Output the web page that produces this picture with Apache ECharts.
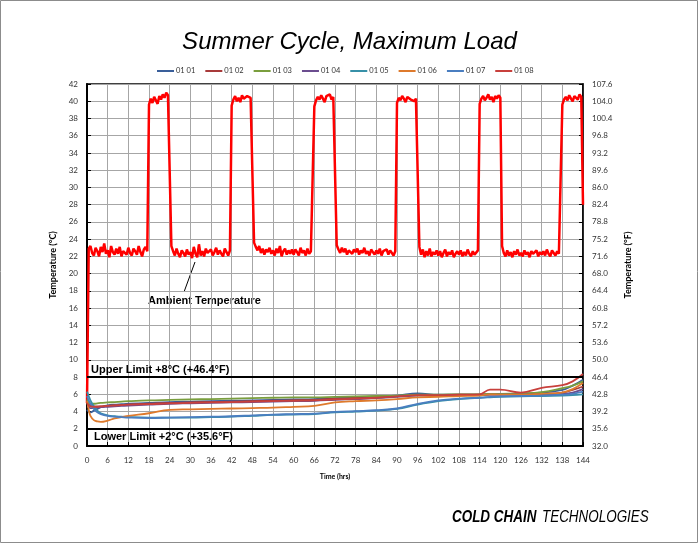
<!DOCTYPE html>
<html>
<head>
<meta charset="utf-8">
<title>Summer Cycle, Maximum Load</title>
<script src="https://cdn.jsdelivr.net/npm/echarts@6/dist/echarts.min.js"></script>
<style>
  html, body { margin: 0; padding: 0; background: #fff; }
  #main { width: 699px; height: 544px; }
</style>
</head>
<body>
<div id="main"></div>
<script>
"use strict";

// probe names (legend)
var probeNames = ['01 01', '01 02', '01 03', '01 04', '01 05', '01 06', '01 07', '01 08'];
var probeColors = ['#3a5f9a', '#a83a3a', '#7a9e3e', '#6b4d8f', '#3790a8', '#de7a2c', '#4a7ec0', '#c8403c'];

var probeHours = [0, 0.5, 1, 2, 3, 4, 6, 8, 10, 12, 18, 24, 30, 36, 42, 48, 54, 60, 66, 72, 78, 84, 90, 96, 102, 108, 114, 117, 120, 126, 132, 138, 141, 144];

var probe0101 = [4.2, 4.0, 3.9, 4.1, 4.3, 4.5, 4.7, 4.8, 4.85, 4.9, 5.0, 5.1, 5.15, 5.2, 5.25, 5.3, 5.35, 5.4, 5.45, 5.55, 5.65, 5.75, 5.85, 6.1, 5.95, 5.95, 5.95, 6.0, 6.0, 6.05, 6.2, 6.5, 7.0, 7.7];
var probe0102 = [5.3, 4.9, 4.7, 4.6, 4.6, 4.6, 4.65, 4.7, 4.75, 4.8, 4.9, 5.0, 5.05, 5.1, 5.15, 5.2, 5.25, 5.3, 5.35, 5.5, 5.6, 5.7, 5.8, 5.9, 5.9, 5.95, 5.95, 6.0, 6.0, 6.0, 6.05, 6.2, 6.5, 6.9];
var probe0103 = [5.4, 5.0, 4.9, 4.9, 4.95, 5.0, 5.05, 5.1, 5.15, 5.2, 5.3, 5.35, 5.4, 5.45, 5.5, 5.55, 5.6, 5.65, 5.65, 5.7, 5.75, 5.8, 5.85, 5.95, 5.95, 6.0, 6.0, 6.05, 6.05, 6.1, 6.25, 6.7, 7.0, 7.5];
var probe0104 = [4.6, 4.5, 4.4, 4.4, 4.45, 4.5, 4.55, 4.6, 4.65, 4.7, 4.8, 4.9, 4.95, 5.0, 5.05, 5.1, 5.15, 5.2, 5.25, 5.35, 5.45, 5.55, 5.7, 5.85, 5.85, 5.9, 5.9, 5.95, 5.95, 5.95, 6.0, 6.05, 6.2, 6.6];
var probe0105 = [6.3, 5.8, 5.3, 4.6, 4.1, 3.8, 3.55, 3.45, 3.4, 3.35, 3.3, 3.3, 3.3, 3.35, 3.4, 3.5, 3.6, 3.65, 3.7, 3.9, 4.0, 4.1, 4.3, 4.8, 5.2, 5.45, 5.6, 5.65, 5.7, 5.75, 5.8, 5.85, 5.9, 6.0];
var probe0106 = [5.2, 4.2, 3.5, 3.0, 2.85, 2.8, 2.95, 3.2, 3.35, 3.5, 3.8, 4.2, 4.25, 4.3, 4.35, 4.4, 4.45, 4.55, 4.65, 5.05, 5.2, 5.3, 5.45, 5.65, 5.7, 5.8, 5.85, 6.0, 5.95, 5.95, 6.05, 6.2, 6.6, 7.3];
var probe0107 = [5.8, 5.3, 4.9, 4.3, 3.9, 3.7, 3.5, 3.4, 3.35, 3.3, 3.25, 3.3, 3.35, 3.4, 3.45, 3.55, 3.65, 3.7, 3.75, 3.95, 4.05, 4.15, 4.35, 4.9, 5.3, 5.5, 5.6, 5.7, 5.75, 5.8, 5.85, 5.95, 6.05, 6.3];
var probe0108 = [5.0, 4.7, 4.6, 4.55, 4.55, 4.6, 4.65, 4.7, 4.75, 4.8, 4.85, 4.95, 5.0, 5.05, 5.1, 5.15, 5.2, 5.25, 5.3, 5.4, 5.5, 5.6, 5.75, 5.9, 5.9, 5.95, 6.0, 6.55, 6.55, 6.2, 6.75, 7.05, 7.5, 8.35];
var probeValues = [probe0101, probe0102, probe0103, probe0104, probe0105, probe0106, probe0107, probe0108];

// ambient temperature, one reading every half hour (0 .. 144 h), 12 per row = 6 h
var ambientStep = 0.5;
var ambient = [
  5.0, 22.9, 23.2, 22.4, 22.1, 23.0, 22.6, 22.0, 23.1, 22.5, 23.5, 22.3,
  22.7, 21.9, 23.2, 22.5, 22.2, 22.9, 22.3, 23.1, 22.0, 22.6, 22.8, 22.2,
  23.0, 22.4, 22.1, 22.9, 22.6, 22.2, 23.2, 22.5, 22.0, 22.8, 23.1, 22.6,
  39.6, 40.3, 39.8, 40.5, 40.1, 39.7, 40.6, 40.2, 40.8, 40.4, 41.0, 40.7,
  40.9, 23.2, 22.6, 22.1, 22.9, 22.3, 21.9, 22.7, 22.4, 22.0, 22.8, 22.2,
  22.5, 21.8, 23.1, 22.3, 21.9, 23.4, 22.1, 22.6, 22.0, 22.9, 22.4, 22.2,
  22.8, 22.1, 22.5, 23.0, 22.2, 22.7, 22.3, 22.0, 22.9, 22.5, 22.1, 22.7,
  39.5, 40.2, 40.6, 40.0, 40.4, 39.9, 40.7, 40.3, 40.1, 40.6, 40.8, 40.4,
  40.5, 23.6, 23.1, 22.7, 23.2, 22.4, 22.9, 22.2, 22.8, 22.5, 23.0, 22.3,
  22.7, 22.1, 22.9, 22.4, 23.2, 22.0, 22.6, 22.9, 22.2, 22.7, 22.3, 22.8,
  22.2, 22.8, 22.5, 22.1, 23.0, 22.4, 22.7, 22.1, 22.9, 22.3, 22.6, 22.4,
  39.4, 40.1, 40.5, 40.2, 40.7, 40.3, 39.9, 40.6, 40.4, 40.8, 40.2, 40.5,
  40.3, 23.3, 22.8, 22.4, 23.0, 22.5, 22.9, 22.2, 22.7, 22.6, 22.3, 22.8,
  22.5, 22.9, 22.2, 22.7, 22.4, 23.0, 22.3, 22.6, 22.1, 22.8, 22.5, 22.2,
  22.7, 22.3, 22.9, 22.1, 22.6, 22.4, 22.8, 22.2, 22.7, 22.5, 22.1, 22.6,
  39.8, 40.4, 40.1, 40.6, 40.3, 39.9, 40.5, 40.7, 40.2, 40.4, 40.0, 40.3,
  40.1, 23.1, 22.2, 22.8, 21.9, 22.6, 22.1, 22.9, 22.0, 22.5, 22.2, 22.7,
  22.1, 22.6, 21.9, 22.4, 22.8, 22.0, 22.5, 22.2, 22.7, 21.9, 22.3, 22.6,
  22.2, 22.7, 22.0, 22.5, 22.1, 22.8, 22.3, 22.0, 22.6, 22.2, 22.4, 22.7,
  39.7, 40.3, 40.6, 40.1, 40.4, 40.8, 40.2, 40.5, 39.9, 40.6, 40.3, 40.7,
  40.4, 23.2, 22.4, 22.0, 22.7, 22.1, 22.5, 21.9, 22.6, 22.2, 22.8, 22.1,
  22.4, 22.0, 22.7, 22.2, 22.5, 21.9, 22.6, 22.3, 22.1, 22.7, 22.0, 22.5,
  22.2, 22.6, 22.1, 22.8, 22.3, 22.0, 22.7, 22.4, 22.1, 22.6, 22.3, 22.5,
  39.6, 40.2, 40.5, 40.1, 40.7, 40.3, 40.0, 40.6, 40.4, 40.2, 40.8, 40.5,
  28.0
];

// right axis tick labels (degrees F for 0,2,4 .. 42 C)
var fahrenheitLabels = ['32.0', '35.6', '39.2', '42.8', '46.4', '50.0', '53.6', '57.2', '60.8', '64.4', '68.0',
  '71.6', '75.2', '78.8', '82.4', '86.0', '89.6', '93.2', '96.8', '100.4', '104.0', '107.6'];

// limits
var upperLimit = 8;
var lowerLimit = 2;
var upperLabel = 'Upper Limit +8°C (+46.4°F)';
var lowerLabel = 'Lower Limit +2°C (+35.6°F)';

var chart = echarts.init(document.getElementById('main'));

var labelFont = 'Lato, "Liberation Sans", sans-serif';
var arialFont = '"Liberation Sans", Arial, sans-serif';

function pairs(xs, ys) {
  var out = [];
  for (var i = 0; i < ys.length; i++) out.push([xs[i], ys[i]]);
  return out;
}

var ambientData = [];
for (var i = 0; i < ambient.length; i++) ambientData.push([i * ambientStep, ambient[i]]);

var series = [];
// ambient first so probes sit above it
series.push({
  name: 'Ambient',
  type: 'line',
  data: ambientData,
  showSymbol: false,
  lineStyle: { color: '#ff0000', width: 2.5 },
  itemStyle: { color: '#ff0000' },
  z: 3
});
for (var p = 0; p < probeNames.length; p++) {
  series.push({
    name: probeNames[p],
    type: 'line',
    data: pairs(probeHours, probeValues[p]),
    smooth: 0.4,
    showSymbol: false,
    lineStyle: { color: probeColors[p], width: 1.8 },
    itemStyle: { color: probeColors[p] },
    z: 4
  });
}
// upper / lower limit lines
series[1].markLine = {
  silent: true,
  symbol: 'none',
  animation: false,
  lineStyle: { color: '#000', width: 2, type: 'solid' },
  data: [
    { yAxis: upperLimit, label: { formatter: upperLabel, position: 'insideStartTop', distance: [4, 2] } },
    { yAxis: lowerLimit, label: { formatter: lowerLabel, position: 'insideStartBottom', distance: [7, 3] } }
  ],
  label: { color: '#000', fontSize: 11, fontWeight: 'bold', fontFamily: arialFont }
};

var option = {
  animation: false,
  backgroundColor: '#fff',
  title: {
    text: 'Summer Cycle, Maximum Load',
    left: 'center',
    top: 25,
    textStyle: { fontSize: 24, fontStyle: 'italic', fontWeight: 'normal', color: '#000', fontFamily: arialFont }
  },
  legend: {
    data: probeNames,
    top: 62,
    left: 152,
    icon: 'rect',
    itemWidth: 17,
    itemHeight: 2,
    itemGap: 10,
    textStyle: { fontSize: 7.5, color: '#333', fontFamily: labelFont, padding: [0, 0, 0, -3] }
  },
  grid: {
    left: 87,
    right: 116,
    top: 84,
    bottom: 98,
    show: true,
    borderColor: '#000',
    borderWidth: 1.5
  },
  xAxis: {
    type: 'value',
    min: 0,
    max: 144,
    interval: 6,
    name: 'Time (hrs)',
    nameLocation: 'middle',
    nameGap: 27,
    nameTextStyle: { fontSize: 7, fontWeight: 'bold', color: '#000', fontFamily: labelFont },
    axisLine: { show: true, lineStyle: { color: '#000', width: 2 } },
    axisTick: { show: true, inside: true, length: 4, lineStyle: { color: '#000' } },
    axisLabel: { fontSize: 8, color: '#333', margin: 10, fontFamily: labelFont },
    splitLine: { show: true, lineStyle: { color: '#a6a6a6', width: 1 } }
  },
  yAxis: [{
    type: 'value',
    min: 0,
    max: 42,
    interval: 2,
    position: 'left',
    name: 'Temperature (°C)',
    nameLocation: 'middle',
    nameGap: 23,
    nameRotate: 90,
    nameTextStyle: { fontSize: 9, fontWeight: 'bold', color: '#000', fontFamily: labelFont },
    axisLine: { show: true, lineStyle: { color: '#000', width: 2 } },
    axisTick: { show: true, inside: true, length: 4, lineStyle: { color: '#000' } },
    axisLabel: { fontSize: 8, color: '#333', margin: 9, fontFamily: labelFont },
    splitLine: { show: true, lineStyle: { color: '#a6a6a6', width: 1 } }
  }, {
    type: 'value',
    min: 0,
    max: 42,
    interval: 2,
    position: 'right',
    name: 'Temperature (°F)',
    nameLocation: 'middle',
    nameGap: 39,
    nameRotate: 90,
    nameTextStyle: { fontSize: 9, fontWeight: 'bold', color: '#000', fontFamily: labelFont },
    axisLine: { show: true, lineStyle: { color: '#000', width: 1.5 } },
    axisTick: { show: true, inside: true, length: 4, lineStyle: { color: '#000' } },
    axisLabel: {
      fontSize: 8, color: '#333', margin: 9, fontFamily: labelFont,
      formatter: function(v) { return fahrenheitLabels[Math.round(v / 2)]; }
    },
    splitLine: { show: false }
  }],
  series: series,
  graphic: [
    // outer frame
    {
      type: 'rect',
      shape: { x: 0.5, y: 0.5, width: 697, height: 542 },
      style: { fill: 'none', stroke: '#8c8c8c', lineWidth: 1 },
      silent: true
    },
    // ambient annotation
    {
      type: 'text',
      left: 148,
      top: 295,
      style: { text: 'Ambient Temperature', fontSize: 11, fontWeight: 'bold', fill: '#000', fontFamily: arialFont }
    },
    {
      type: 'line',
      shape: { x1: 184, y1: 292, x2: 195, y2: 262 },
      style: { stroke: '#000', lineWidth: 1 },
      silent: true
    },
    // logo text, squeezed to mimic a narrow face
    {
      type: 'text',
      x: 452,
      y: 510,
      scaleX: 0.84,
      style: {
        text: '{a|COLD CHAIN}  {b|TECHNOLOGIES}',
        rich: {
          a: { fontSize: 16, fontWeight: 'bold', fontStyle: 'italic', fill: '#000', fontFamily: arialFont },
          b: { fontSize: 16, fontStyle: 'italic', fill: '#000', fontFamily: arialFont }
        }
      }
    }
  ]
};

chart.setOption(option);
</script>
</body>
</html>
